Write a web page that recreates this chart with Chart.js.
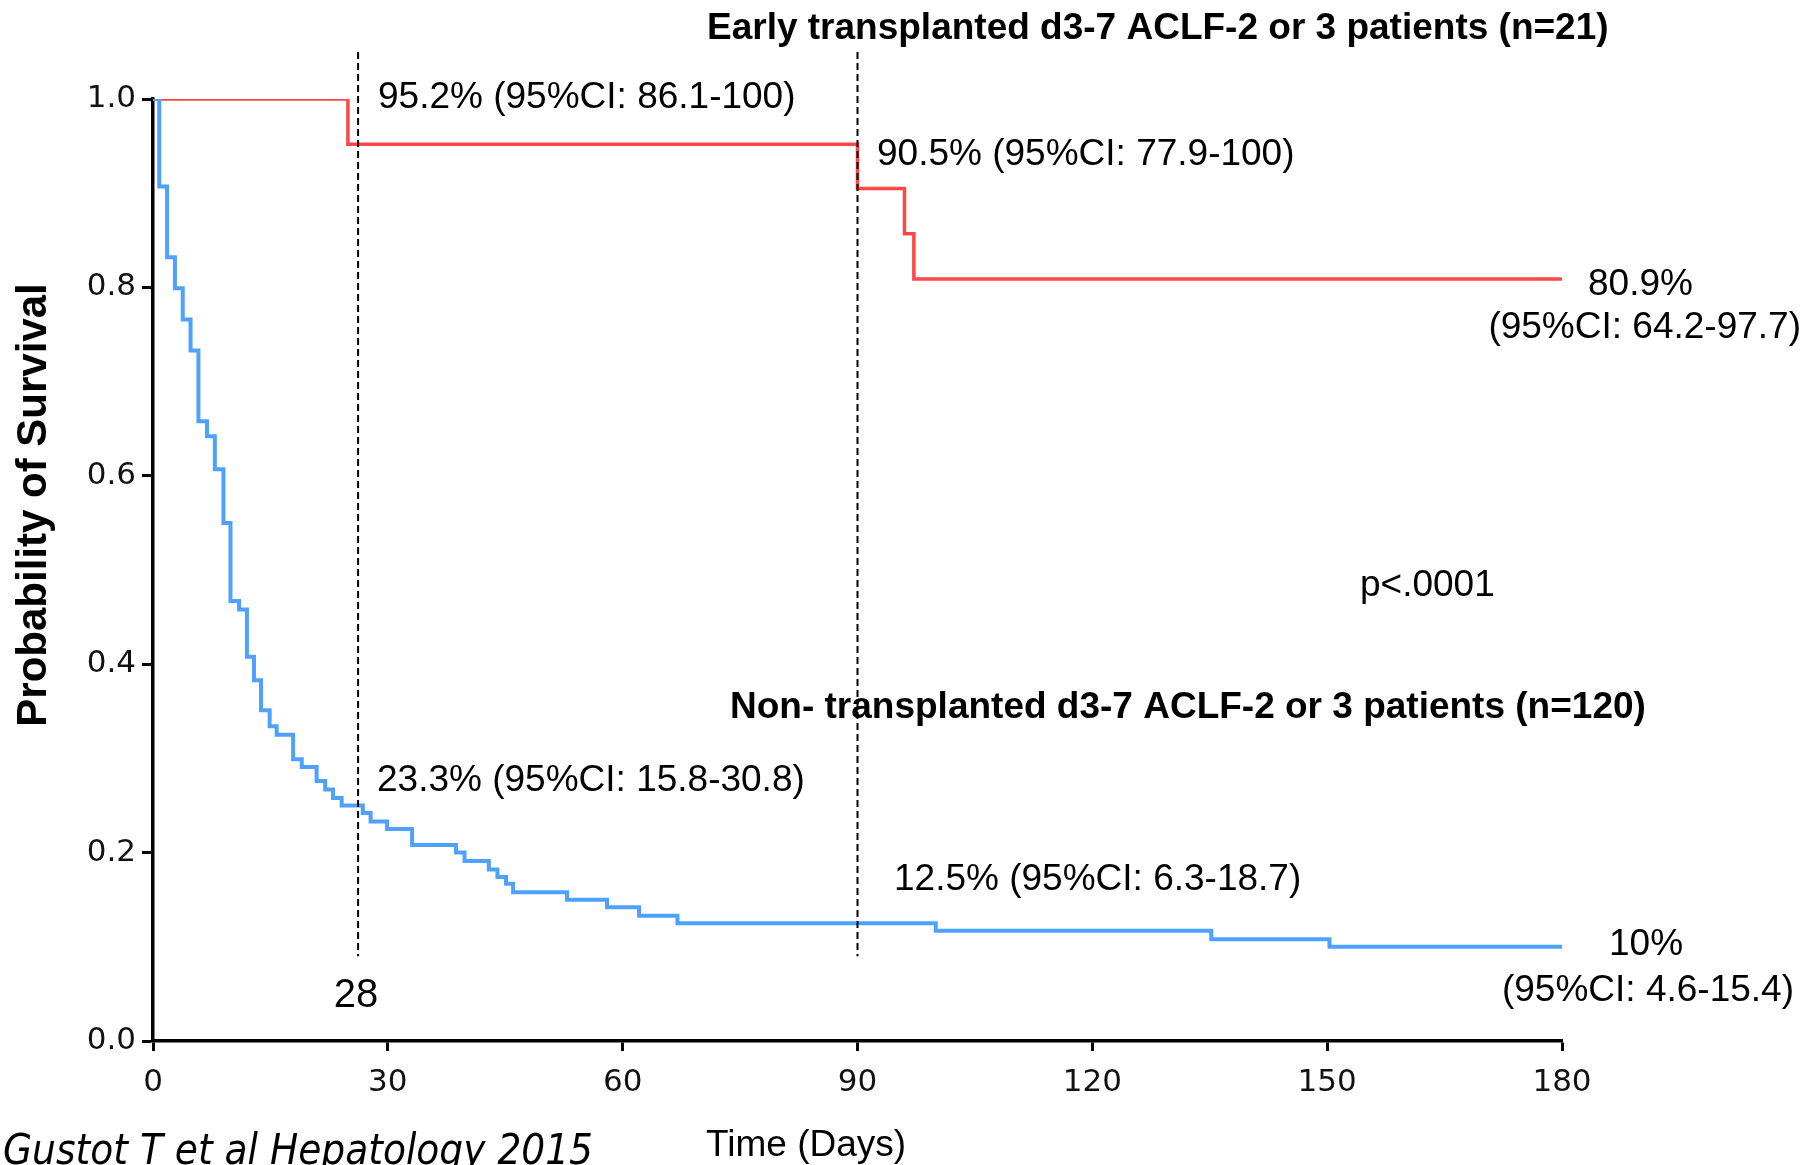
<!DOCTYPE html>
<html>
<head>
<meta charset="utf-8">
<title>Survival of d3-7 ACLF-2/3 patients</title>
<script src="https://cdn.jsdelivr.net/npm/chart.js@4.4.1/dist/chart.umd.min.js"></script>
<style>
  html, body { margin: 0; padding: 0; background: #fff; }
  canvas { display: block; }
</style>
</head>
<body>
<canvas id="km" width="1806" height="1165"></canvas>
<script>
// Kaplan-Meier steps: day of each drop and survival after it
const transplantDays = [0, 24.9, 90.0, 96.0, 97.2, 180];
const transplantSurv = [1.0, 0.952, 0.905, 0.857, 0.809, 0.809];

const noTransplantDays = [0, 0.8, 1.8, 2.8, 3.8, 4.8, 5.8, 6.9, 7.9, 9.0,
  9.9, 11.0, 12.0, 12.9, 13.8, 14.9, 15.8, 17.9, 19.0, 20.9,
  22.0, 23.0, 24.1, 26.8, 27.8, 29.9, 33.1, 38.7, 39.8, 42.9,
  44.0, 45.1, 46.0, 52.9, 58.0, 62.1, 67.0, 100.0, 135.2, 150.3, 180];
const noTransplantSurv = [1.0, 0.907, 0.832, 0.799, 0.766, 0.733, 0.658, 0.642, 0.607, 0.550,
  0.467, 0.458, 0.408, 0.383, 0.351, 0.334, 0.325, 0.299, 0.291, 0.276,
  0.267, 0.258, 0.250, 0.242, 0.233, 0.225, 0.208, 0.200, 0.191, 0.182,
  0.174, 0.167, 0.158, 0.150, 0.142, 0.133, 0.125, 0.117, 0.108, 0.100, 0.100];

// dashed landmark lines at day 28 and day 90
const landmarkDays = [26.2, 90];
const landmarkSpan = [0.09, 1.05];

const xTicks = [0, 30, 60, 90, 120, 150, 180];
const yTicks = [0, 0.2, 0.4, 0.6, 0.8, 1.0];

const toPoints = (xs, ys) => xs.map((x, i) => ({ x: x, y: ys[i] }));

const BLUE = "#4fa1ff";
const RED = "#ff4747";
const ARIAL = "'Liberation Sans', Arial, sans-serif";
const TICK_FONT = { family: "'DejaVu Sans', Verdana, sans-serif", size: 31 };

const notes = [
  { text: "Early transplanted d3-7 ACLF-2 or 3 patients (n=21)", x: 707, y: 29, bold: true },
  { text: "Non- transplanted d3-7 ACLF-2 or 3 patients (n=120)", x: 730, y: 708, bold: true },
  { text: "95.2% (95%CI: 86.1-100)", x: 378, y: 97.5 },
  { text: "90.5% (95%CI: 77.9-100)", x: 877, y: 155 },
  { text: "80.9%", x: 1588, y: 284.5 },
  { text: "(95%CI: 64.2-97.7)", x: 1801, y: 328, align: "right" },
  { text: "p<.0001", x: 1360, y: 586 },
  { text: "23.3% (95%CI: 15.8-30.8)", x: 377, y: 781 },
  { text: "12.5% (95%CI: 6.3-18.7)", x: 894, y: 879.5 },
  { text: "10%", x: 1609, y: 945 },
  { text: "(95%CI: 4.6-15.4)", x: 1794, y: 990.5, align: "right" },
];

// free text: titles, estimates, axis titles and citation
const textLayer = {
  id: "textLayer",
  afterDraw(chart) {
    const ctx = chart.ctx;
    ctx.save();
    ctx.fillStyle = "#000";
    ctx.textBaseline = "middle";
    notes.forEach((n) => {
      ctx.font = (n.bold ? "bold " : "") + "37px " + ARIAL;
      ctx.textAlign = n.align || "left";
      ctx.fillText(n.text, n.x, n.y);
    });

    ctx.font = "40px " + ARIAL;
    ctx.textAlign = "center";
    ctx.fillText("28", 356, 996);

    ctx.font = "37px " + ARIAL;
    ctx.textAlign = "left";
    ctx.fillText("Time (Days)", 706, 1146);

    ctx.font = "italic 42px 'DejaVu Sans', Verdana, sans-serif";
    ctx.textBaseline = "alphabetic";
    ctx.fillText("Gustot T et al Hepatology 2015", 3, 1164, 590);

    ctx.translate(34, 505);
    ctx.rotate(-Math.PI / 2);
    ctx.font = "bold 42px " + ARIAL;
    ctx.textAlign = "center";
    ctx.textBaseline = "middle";
    ctx.fillText("Probability of Survival", 0, 0);
    ctx.restore();
  },
};

const landmarkSets = landmarkDays.map((d) => ({
  data: [{ x: d, y: landmarkSpan[1] }, { x: d, y: landmarkSpan[0] }],
  borderColor: "#000",
  borderWidth: 2,
  borderDash: [7, 4],
  pointRadius: 0,
  clip: false,
  order: -1,
}));

new Chart(document.getElementById("km"), {
  type: "line",
  data: {
    datasets: [
      {
        label: "Non-transplanted",
        data: toPoints(noTransplantDays, noTransplantSurv),
        borderColor: BLUE,
        borderWidth: 4,
        stepped: "before",
        pointRadius: 0,
        clip: 0,
        order: 0,
      },
      {
        label: "Early transplanted",
        data: toPoints(transplantDays, transplantSurv),
        borderColor: RED,
        borderWidth: 3.5,
        stepped: "before",
        pointRadius: 0,
        clip: 0,
        order: 1,
      },
      ...landmarkSets,
    ],
  },
  options: {
    responsive: false,
    animation: false,
    layout: { padding: { left: 0, right: 244, top: 99, bottom: 0 } },
    plugins: { legend: { display: false }, tooltip: { enabled: false } },
    scales: {
      x: {
        type: "linear",
        min: 0,
        max: 180,
        afterBuildTicks: (s) => { s.ticks = xTicks.map((v) => ({ value: v })); },
        afterFit: (s) => { s.height = 124; },
        ticks: { font: TICK_FONT, color: "#111", padding: 13, maxRotation: 0, autoSkip: false },
        grid: { drawOnChartArea: false, tickLength: 10, tickWidth: 3, tickColor: "#000" },
        border: { color: "#000", width: 3.5 },
      },
      y: {
        type: "linear",
        min: 0,
        max: 1,
        afterBuildTicks: (s) => { s.ticks = yTicks.map((v) => ({ value: v })); },
        afterFit: (s) => { s.width = 153; },
        ticks: { font: TICK_FONT, color: "#111", padding: 6, callback: (v) => v.toFixed(1) },
        grid: { drawOnChartArea: false, tickLength: 11, tickWidth: 3, tickColor: "#000" },
        border: { color: "#000", width: 3.5 },
      },
    },
  },
  plugins: [textLayer],
});
</script>
</body>
</html>
